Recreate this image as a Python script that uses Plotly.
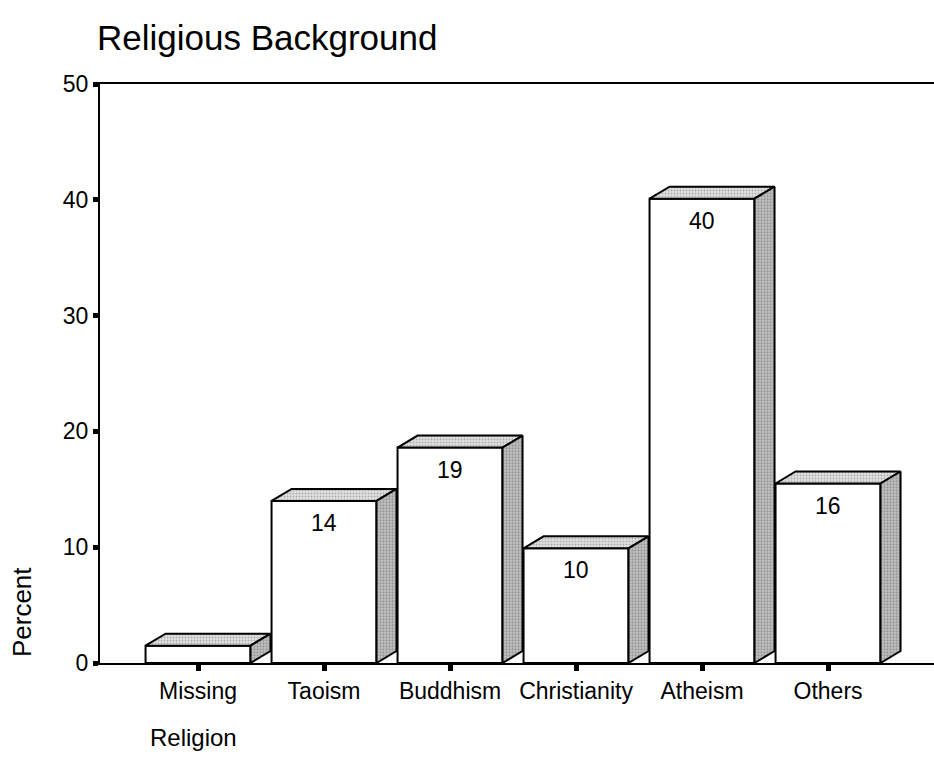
import plotly.graph_objects as go

categories = ["Missing", "Taoism", "Buddhism", "Christianity", "Atheism", "Others"]
percent = [1.5, 14.0, 18.6, 9.9, 40.1, 15.5]
bar_labels = ["", "14", "19", "10", "40", "16"]
y_ticks = [0, 10, 20, 30, 40, 50]

BAR_W = 0.833
DX = 0.159
DY = 1.036
FONT = "Liberation Sans, Arial, sans-serif"

xs = list(range(len(categories)))

fig = go.Figure()
fig.add_trace(go.Bar(
    x=xs, y=percent, width=BAR_W,
    marker=dict(color="white", line=dict(color="black", width=2)),
    hoverinfo="skip",
))

top_pattern = dict(shape=".", fgcolor="#7a7a7a", bgcolor="#e2e2e2", size=3, solidity=0.35)
side_pattern = dict(shape=".", fgcolor="#6a6a6a", bgcolor="#c4c4c4", size=3, solidity=0.45)

for i, v in zip(xs, percent):
    x0 = i - BAR_W / 2
    x1 = i + BAR_W / 2
    fig.add_trace(go.Scatter(
        x=[x0, x1, x1 + DX, x0 + DX, x0],
        y=[v, v, v + DY, v + DY, v],
        mode="lines", fill="toself", fillcolor="#d8d8d8", fillpattern=top_pattern,
        line=dict(color="black", width=2), hoverinfo="skip",
    ))
    fig.add_trace(go.Scatter(
        x=[x1, x1 + DX, x1 + DX, x1, x1],
        y=[0, DY, v + DY, v, 0],
        mode="lines", fill="toself", fillcolor="#bdbdbd", fillpattern=side_pattern,
        line=dict(color="black", width=2), hoverinfo="skip",
    ))

annotations = []
for i, v, lab in zip(xs, percent, bar_labels):
    if lab:
        annotations.append(dict(
            x=i, y=v, xref="x", yref="y", text=lab, showarrow=False,
            yanchor="top", yshift=-7, font=dict(size=23, color="black", family=FONT),
        ))

annotations.append(dict(
    text="Percent", xref="paper", yref="paper", x=-0.0935, y=0.088,
    textangle=-90, showarrow=False, xanchor="center", yanchor="middle",
    font=dict(size=26, color="black", family=FONT),
))
annotations.append(dict(
    text="Religion", xref="paper", yref="paper", x=0.0576, y=-0.1295,
    showarrow=False, xanchor="left", yanchor="middle",
    font=dict(size=24, color="black", family=FONT),
))
annotations.append(dict(
    text="Religious Background", xref="paper", yref="paper", x=-0.006, y=1.0,
    yshift=47, showarrow=False, xanchor="left", yanchor="middle",
    font=dict(size=35, color="black", family=FONT),
))

fig.update_layout(
    width=934, height=779, autosize=False,
    margin=dict(l=100, r=0, t=84, b=116, pad=0),
    paper_bgcolor="white", plot_bgcolor="white",
    showlegend=False,
    font=dict(family=FONT, color="black"),
    annotations=annotations,
    xaxis=dict(
        range=[-0.778, 5.841], tickvals=xs, ticktext=categories,
        ticks="outside", ticklen=6, tickwidth=5, tickcolor="black",
        showline=True, linecolor="black", linewidth=2, mirror=True,
        showgrid=False, zeroline=False, tickfont=dict(size=23, family=FONT),
    ),
    yaxis=dict(
        range=[0, 50], tickvals=y_ticks,
        ticks="outside", ticklen=5, tickwidth=5, tickcolor="black",
        showline=True, linecolor="black", linewidth=2,
        showgrid=False, zeroline=False, tickfont=dict(size=23, family=FONT),
    ),
)

fig.write_html("out.html")
